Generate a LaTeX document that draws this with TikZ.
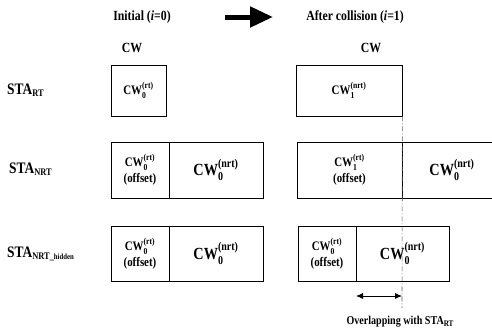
\documentclass[tikz,border=0pt]{standalone}
\usepackage{amsmath}
\usepackage{fontspec}
\setmainfont{Liberation Serif}[FakeStretch=0.84]
\usetikzlibrary{arrows.meta}
\newcommand\cwlab[3]{\fontsize{#3}{#3}\selectfont\bfseries CW$_{\text{\bfseries #1}}^{\text{\bfseries(#2)}}$}
\newcommand\offs{\fontsize{13}{13}\selectfont\bfseries (offset)}
\newcommand\stalab[1]{\fontsize{16}{16}\selectfont\bfseries STA\raisebox{-0.35ex}{\fontsize{10}{10}\selectfont #1}}
\tikzset{
  box/.style={draw, line width=0.7pt, inner sep=0pt, align=center, font=\bfseries},
  hdr/.style={font=\bfseries\fontsize{14}{14}\selectfont, inner sep=0pt},
  sta/.style={font=\bfseries, anchor=base west, inner sep=0pt},
}
\begin{document}
\begin{tikzpicture}[x=1pt,y=-1pt]
\useasboundingbox (0,0) rectangle (492,335);
\clip (0,0) rectangle (492,335);
% headers
\node[hdr] (h1) at (142,17) {Initial (\textit{i}=0)};
\node[hdr] (h2) at (355,17) {After collision (\textit{i}=1)};
\coordinate (ha) at (225,17);
\coordinate (hb) at (273,17);
\draw[line width=5pt, -{Triangle[length=23pt,width=20pt]}] (ha) -- (hb);
\node[hdr] (cw1) at (132,48) {CW};
\node[hdr] (cw2) at (371,48) {CW};
% row labels
\node[sta] (l1) at (7,94) {\stalab{RT}};
\node[sta] (l2) at (9,173) {\stalab{NRT}};
\node[sta] (l3) at (7,257) {\stalab{NRT\_\fontsize{8}{8}\selectfont hidden}};
% row 1
\node[box, minimum width=55pt, minimum height=51pt] (rt0) at (138.5,90.5) {\cwlab{0}{rt}{13}};
\node[box, minimum width=106pt, minimum height=51pt] (rt1) at (349,90.5) {\cwlab{1}{nrt}{13}};
% row 2
\node[box, minimum width=58pt, minimum height=56pt] (n0a) at (140,170) {\cwlab{0}{rt}{13}\\[2pt]\offs};
\node[box, minimum width=94pt, minimum height=56pt] (n0b) at (216,170) {\cwlab{0}{nrt}{17}};
\node[box, minimum width=105pt, minimum height=56pt] (n1a) at (349.5,170) {\cwlab{1}{rt}{13}\\[2pt]\offs};
\node[box, minimum width=100pt, minimum height=56pt] (n1b) at (452,170) {\cwlab{0}{nrt}{17}};
% row 3
\node[box, minimum width=58pt, minimum height=55pt] (h0a) at (140,253.5) {\cwlab{0}{rt}{13}\\[2pt]\offs};
\node[box, minimum width=94pt, minimum height=55pt] (h0b) at (216,253.5) {\cwlab{0}{nrt}{17}};
\node[box, minimum width=58pt, minimum height=55pt] (h1a) at (327,253.5) {\cwlab{0}{rt}{13}\\[2pt]\offs};
\node[box, minimum width=93pt, minimum height=55pt] (h1b) at (402.5,253.5) {\cwlab{0}{nrt}{17}};
% dash-dot boundary
\coordinate (dl) at (402,308);
\draw[line width=0.6pt, gray!70!black, dash pattern=on 5pt off 2pt on 1pt off 2pt] (rt1.south east) -- (dl);
% overlap arrow
\coordinate (oa) at (356,296);
\coordinate (ob) at (402,296);
\draw[line width=0.8pt, {Latex[length=7pt,width=6pt]}-{Latex[length=7pt,width=6pt]}] (oa) -- (ob);
\node[font=\bfseries\fontsize{12}{12}\selectfont, inner sep=0pt] (ov) at (400,322) {Overlapping with STA\raisebox{-0.35ex}{\fontsize{8.5}{8.5}\selectfont RT}};
\end{tikzpicture}
\end{document}
